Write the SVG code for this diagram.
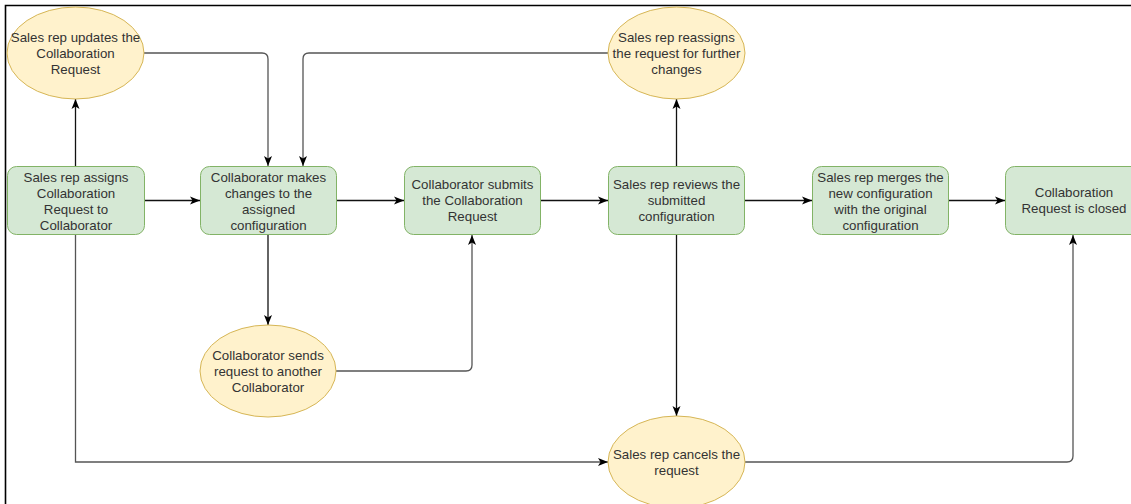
<svg xmlns="http://www.w3.org/2000/svg" width="1131" height="504" viewBox="0 0 1131 504">
<style>
.box{fill:#d5e8d4;stroke:#82b366;stroke-width:1}
.ell{fill:#fff2cc;stroke:#d6b656;stroke-width:1}
.t{font-family:"Liberation Sans",Arial,sans-serif;font-size:13.3px;fill:#333;text-anchor:middle}
.c{fill:none;stroke:#111;stroke-width:1.3}
.g{fill:none;stroke:#555;stroke-width:1.3}
</style>
<defs>
<marker id="ah" markerUnits="userSpaceOnUse" markerWidth="12" markerHeight="10" viewBox="0 0 12 10" refX="10" refY="5" orient="auto">
<path d="M0,1 L10,5 L0,9 L2.5,5 z" fill="#000"/>
</marker>
</defs>
<rect width="1131" height="504" fill="#fff"/>
<path d="M5.5,504 V5.5 H1131" fill="none" stroke="#000" stroke-width="1.6"/>
<g id="connectors">
<path class="c" d="M144,200.5 H200" marker-end="url(#ah)"/>
<path class="c" d="M336,200.5 H404" marker-end="url(#ah)"/>
<path class="c" d="M541,200.5 H608" marker-end="url(#ah)"/>
<path class="c" d="M744,200.5 H812" marker-end="url(#ah)"/>
<path class="c" d="M949,200.5 H1005" marker-end="url(#ah)"/>
<path class="c" d="M75.5,166 V99" marker-end="url(#ah)"/>
<path class="g" d="M144,53 H262 Q268,53 268,59 V166" marker-end="url(#ah)"/>
<path class="g" d="M608,53 H309 Q303,53 303,59 V166" marker-end="url(#ah)"/>
<path class="c" d="M676.5,166 V99" marker-end="url(#ah)"/>
<path class="c" d="M268,235 V325" marker-end="url(#ah)"/>
<path class="g" d="M336,371 H466 Q472,371 472,365 V235" marker-end="url(#ah)"/>
<path class="c" d="M676.5,235 V416" marker-end="url(#ah)"/>
<path class="g" d="M75.5,235 V462 H608" marker-end="url(#ah)"/>
<path class="g" d="M745,462 H1067 Q1073,462 1073,456 V235" marker-end="url(#ah)"/>
</g>
<g id="assign">
<rect class="box" x="7.5" y="166.5" width="137" height="68" rx="9"/>
<text class="t"><tspan x="76" y="181.5">Sales rep assigns</tspan><tspan x="76" y="197.5">Collaboration</tspan><tspan x="76" y="213.5">Request to</tspan><tspan x="76" y="229.5">Collaborator</tspan></text>
</g>
<g id="updates">
<ellipse class="ell" cx="75.5" cy="53" rx="68.5" ry="46"/>
<text class="t"><tspan x="75.5" y="41.5">Sales rep updates the</tspan><tspan x="75.5" y="57.5">Collaboration</tspan><tspan x="75.5" y="73.5">Request</tspan></text>
</g>
<g id="makes">
<rect class="box" x="200.5" y="166.5" width="136" height="68" rx="9"/>
<text class="t"><tspan x="268.5" y="181.5">Collaborator makes</tspan><tspan x="268.5" y="197.5">changes to the</tspan><tspan x="268.5" y="213.5">assigned</tspan><tspan x="268.5" y="229.5">configuration</tspan></text>
</g>
<g id="sends">
<ellipse class="ell" cx="268" cy="371" rx="68" ry="46"/>
<text class="t"><tspan x="268" y="359.5">Collaborator sends</tspan><tspan x="268" y="375.5">request to another</tspan><tspan x="268" y="391.5">Collaborator</tspan></text>
</g>
<g id="submits">
<rect class="box" x="404.5" y="166.5" width="136" height="68" rx="9"/>
<text class="t"><tspan x="472.5" y="189">Collaborator submits</tspan><tspan x="472.5" y="205">the Collaboration</tspan><tspan x="472.5" y="221">Request</tspan></text>
</g>
<g id="reviews">
<rect class="box" x="608.5" y="166.5" width="136" height="68" rx="9"/>
<text class="t"><tspan x="676.5" y="189">Sales rep reviews the</tspan><tspan x="676.5" y="205">submitted</tspan><tspan x="676.5" y="221">configuration</tspan></text>
</g>
<g id="reassigns">
<ellipse class="ell" cx="676.5" cy="53" rx="68.5" ry="46"/>
<text class="t"><tspan x="676.5" y="41.5">Sales rep reassigns</tspan><tspan x="676.5" y="57.5">the request for further</tspan><tspan x="676.5" y="73.5">changes</tspan></text>
</g>
<g id="cancels">
<ellipse class="ell" cx="676.5" cy="462" rx="68.5" ry="46"/>
<text class="t"><tspan x="676.5" y="458.5">Sales rep cancels the</tspan><tspan x="676.5" y="474.5">request</tspan></text>
</g>
<g id="merges">
<rect class="box" x="812.5" y="166.5" width="136" height="68" rx="9"/>
<text class="t"><tspan x="880.5" y="181.5">Sales rep merges the</tspan><tspan x="880.5" y="197.5">new configuration</tspan><tspan x="880.5" y="213.5">with the original</tspan><tspan x="880.5" y="229.5">configuration</tspan></text>
</g>
<g id="closed">
<rect class="box" x="1005.5" y="166.5" width="137" height="68" rx="9"/>
<text class="t"><tspan x="1074" y="197">Collaboration</tspan><tspan x="1074" y="213">Request is closed</tspan></text>
</g>
</svg>
